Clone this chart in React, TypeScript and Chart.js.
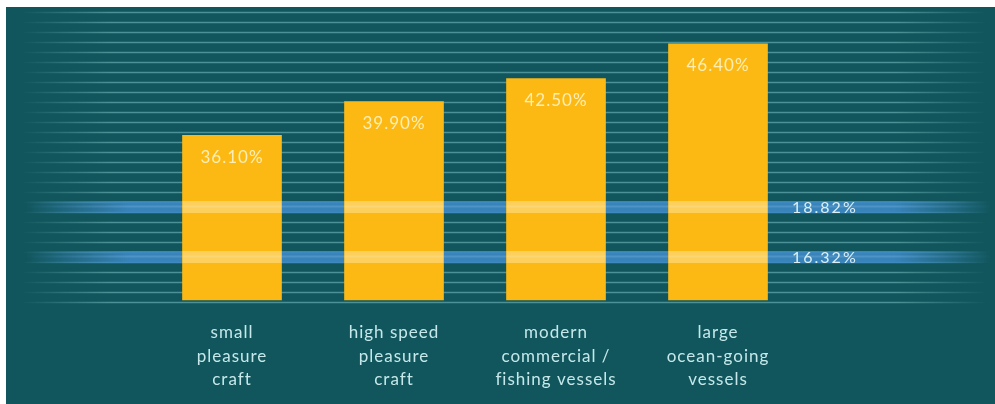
import React, { useEffect, useRef } from "react";
import { Chart, registerables } from "chart.js";

Chart.register(...registerables);

// ---- data ----
const categories: string[][] = [
  ["small", "pleasure", "craft"],
  ["high speed", "pleasure", "craft"],
  ["modern", "commercial /", "fishing vessels"],
  ["large", "ocean-going", "vessels"],
];
const shares: number[] = [36.1, 39.9, 42.5, 46.4];
const shareLabels: string[] = ["36.10%", "39.90%", "42.50%", "46.40%"];
const bandValues: number[] = [18.82, 16.32];
const bandLabels: string[] = ["18.82%", "16.32%"];

// ---- styles ----
const BG = "#11565c";
const BAR = "#fcb914";
const FONT = "Lato, 'Open Sans', sans-serif";

function fade(ctx: CanvasRenderingContext2D, x0: number, x1: number, x2: number, x3: number, rgb: string, a: number) {
  const g = ctx.createLinearGradient(x0, 0, x3, 0);
  const w = x3 - x0;
  g.addColorStop(0, `rgba(${rgb},0)`);
  g.addColorStop((x1 - x0) / w, `rgba(${rgb},${a})`);
  g.addColorStop((x2 - x0) / w, `rgba(${rgb},${a})`);
  g.addColorStop(1, `rgba(${rgb},0)`);
  return g;
}

const decorPlugin = {
  id: "decor",
  beforeDraw(chart: any) {
    const ctx = chart.ctx as CanvasRenderingContext2D;
    (ctx as any).letterSpacing = "1px";
  },
  beforeDatasetsDraw(chart: any) {
    const ctx = chart.ctx as CanvasRenderingContext2D;
    const W = chart.width;
    const g = chart.scales.yGrid;
    ctx.save();
    // background rule lines
    ctx.strokeStyle = fade(ctx, 14, 105, 890, 982, "82,152,157", 0.9);
    ctx.lineWidth = 1.6;
    for (let v = g.min; v <= g.max; v++) {
      const y = Math.round(g.getPixelForValue(v)) + 0.5;
      ctx.beginPath();
      ctx.moveTo(0, y);
      ctx.lineTo(W, y);
      ctx.stroke();
    }
    // reference bands
    const b = chart.scales.yBand;
    bandValues.forEach((v) => {
      const y = b.getPixelForValue(v);
      ctx.fillStyle = fade(ctx, 19, 124, 889, 986, "60,136,196", 0.9);
      ctx.fillRect(0, y - 6, W, 12);
      ctx.fillStyle = fade(ctx, 19, 124, 889, 986, "120,180,222", 0.35);
      ctx.fillRect(0, y - 1.5, W, 2);
    });
    ctx.restore();
  },
  afterDatasetsDraw(chart: any) {
    const ctx = chart.ctx as CanvasRenderingContext2D;
    const b = chart.scales.yBand;
    const meta = chart.getDatasetMeta(0);
    ctx.save();
    // bands seen through the bars
    bandValues.forEach((v) => {
      const y = b.getPixelForValue(v);
      meta.data.forEach((bar: any) => {
        const { x, width } = bar.getProps(["x", "width"], true);
        ctx.fillStyle = "rgba(255,236,180,0.45)";
        ctx.fillRect(x - width / 2, y - 6, width, 12);
        ctx.fillStyle = "rgba(255,245,215,0.2)";
        ctx.fillRect(x - width / 2, y - 1.5, width, 2);
      });
    });
    // value labels inside bars
    ctx.font = `17px ${FONT}`;
    (ctx as any).letterSpacing = "1px";
    ctx.textAlign = "center";
    ctx.textBaseline = "middle";
    ctx.fillStyle = "#fdeeb5";
    meta.data.forEach((bar: any, i: number) => {
      const { x, y } = bar.getProps(["x", "y"], true);
      ctx.fillText(shareLabels[i], x, y + 22);
    });
    // band labels
    ctx.font = `16px ${FONT}`;
    (ctx as any).letterSpacing = "2px";
    ctx.textAlign = "left";
    ctx.fillStyle = "#dcf0f3";
    bandValues.forEach((v, i) => {
      ctx.fillText(bandLabels[i], 786, b.getPixelForValue(v) + 1);
    });
    ctx.restore();
  },
};

export default function App() {
  const ref = useRef<HTMLCanvasElement | null>(null);
  useEffect(() => {
    document.body.style.margin = "0";
    if (!ref.current) return;
    const chart = new Chart(ref.current, {
      type: "bar",
      data: {
        labels: categories as any,
        datasets: [
          {
            data: shares,
            backgroundColor: BAR,
            borderWidth: 0,
            barThickness: 99,
            base: 17.53,
            yAxisID: "y",
          } as any,
        ],
      },
      options: {
        animation: false,
        responsive: true,
        maintainAspectRatio: false,
        layout: { padding: { left: 145, right: 196, top: 5, bottom: 0 } },
        plugins: { legend: { display: false }, tooltip: { enabled: false } },
        scales: {
          x: {
            type: "category",
            grid: { display: false, drawTicks: false },
            border: { display: false },
            ticks: {
              color: "#c6e8ea",
              font: { family: FONT, size: 17, lineHeight: 1.38 },
              padding: 19,
              maxRotation: 0,
              autoSkip: false,
            },
            afterFit: (s: any) => {
              s.height = 102;
            },
          },
          y: { display: false, min: 17.3, max: 50 },
          yBand: { display: false, min: 14.07, max: 28.57 },
          yGrid: { display: false, min: 0, max: 29 },
        } as any,
      },
      plugins: [decorPlugin],
    });
    return () => chart.destroy();
  }, []);
  return (
    <div
      style={{
        position: "absolute",
        left: 6,
        top: 7,
        width: 989,
        height: 397,
        background: BG,
      }}
    >
      <canvas ref={ref} />
    </div>
  );
}
